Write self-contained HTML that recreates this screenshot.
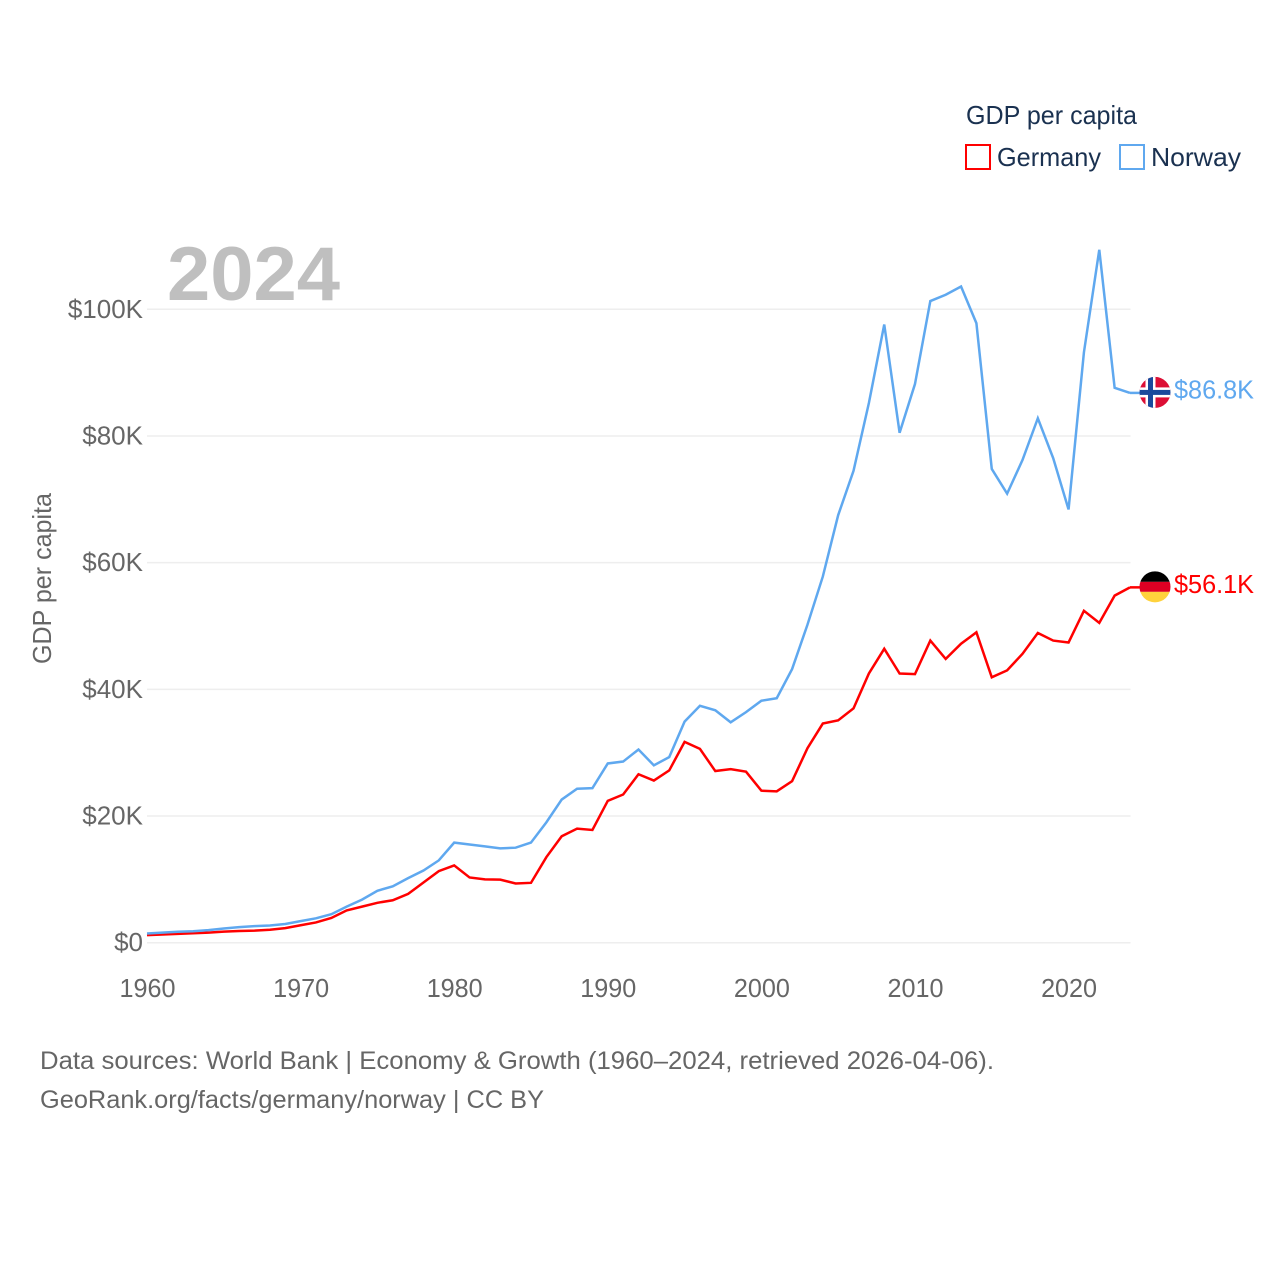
<!DOCTYPE html>
<html lang="en">
<head>
<meta charset="utf-8">
<title>GDP per capita: Germany and Norway</title>
<style>
html,body{margin:0;padding:0;background:#fff;width:1280px;height:1280px;overflow:hidden}
svg{display:block}
text{font-family:"Liberation Sans",sans-serif}
.tick{font-size:26px;fill:#666}
.foot{font-size:25px;fill:#666}
.leg{font-size:26px;fill:#1a3150}
</style>
</head>
<body>
<svg id="chart" xmlns="http://www.w3.org/2000/svg" width="1280" height="1280" viewBox="0 0 1280 1280">
  <rect width="1280" height="1280" fill="#fff"/>
  <g id="grid"></g>
  <text x="167" y="300" font-size="76" font-weight="700" fill="#bfbfbf" textLength="173" lengthAdjust="spacingAndGlyphs" style="font-size:76px">2024</text>
  <g id="yticks"></g>
  <g id="xticks"></g>
  <text class="tick" transform="translate(51,664) rotate(-90)" x="0" y="0" textLength="171" lengthAdjust="spacingAndGlyphs">GDP per capita</text>
  <g id="series"></g>
  <g id="ends"></g>
  <defs>
    <clipPath id="flag-clip-norway"><circle cx="0" cy="0" r="15.5"/></clipPath>
    <clipPath id="flag-clip-germany"><circle cx="0" cy="0" r="15.5"/></clipPath>
  </defs>
  <g>
    <text class="leg" x="966" y="124" textLength="171" lengthAdjust="spacingAndGlyphs">GDP per capita</text>
    <g>
      <rect x="966" y="145" width="24" height="24" fill="none" stroke="#ff0000" stroke-width="2"/>
      <text class="leg" x="997" y="166" textLength="104" lengthAdjust="spacingAndGlyphs">Germany</text>
    </g>
    <g>
      <rect x="1120" y="145" width="24" height="24" fill="none" stroke="#5fa8ef" stroke-width="2"/>
      <text class="leg" x="1151" y="166" textLength="90" lengthAdjust="spacingAndGlyphs">Norway</text>
    </g>
  </g>
  <g>
    <text class="foot" x="40" y="1069" textLength="954" lengthAdjust="spacingAndGlyphs">Data sources: World Bank | Economy &amp; Growth (1960–2024, retrieved 2026-04-06).</text>
    <text class="foot" x="40" y="1108" textLength="504" lengthAdjust="spacingAndGlyphs">GeoRank.org/facts/germany/norway | CC BY</text>
  </g>
</svg>
<script>
const years = [1960,1961,1962,1963,1964,1965,1966,1967,1968,1969,1970,1971,1972,1973,1974,1975,1976,1977,1978,1979,1980,1981,1982,1983,1984,1985,1986,1987,1988,1989,1990,1991,1992,1993,1994,1995,1996,1997,1998,1999,2000,2001,2002,2003,2004,2005,2006,2007,2008,2009,2010,2011,2012,2013,2014,2015,2016,2017,2018,2019,2020,2021,2022,2023,2024];
const norwayValues = [1.45,1.6,1.72,1.8,1.98,2.25,2.45,2.62,2.72,2.95,3.4,3.85,4.5,5.7,6.8,8.2,8.9,10.2,11.4,13.0,15.8,15.5,15.2,14.9,15.0,15.8,19.0,22.6,24.3,24.4,28.3,28.6,30.5,28.0,29.3,34.9,37.4,36.7,34.8,36.4,38.2,38.6,43.2,50.2,57.8,67.5,74.5,85.2,97.6,80.5,88.2,101.3,102.3,103.6,97.8,74.8,70.9,76.2,82.8,76.5,68.4,93.2,109.4,87.6,86.8];
const germanyValues = [1.2,1.3,1.4,1.5,1.6,1.75,1.85,1.9,2.05,2.3,2.75,3.2,3.9,5.1,5.7,6.3,6.7,7.7,9.5,11.3,12.2,10.3,10.0,9.95,9.35,9.45,13.5,16.8,18.0,17.8,22.4,23.4,26.6,25.6,27.2,31.7,30.6,27.1,27.4,27.0,24.0,23.9,25.5,30.7,34.6,35.1,37.0,42.5,46.4,42.5,42.4,47.7,44.8,47.2,49.0,41.9,43.0,45.6,48.9,47.7,47.4,52.4,50.5,54.8,56.1];
const yTickValues = [0,20,40,60,80,100];
const yTickLabels = ["$0","$20K","$40K","$60K","$80K","$100K"];
const xTickValues = [1960,1970,1980,1990,2000,2010,2020];
const xTickLabels = ["1960","1970","1980","1990","2000","2010","2020"];

const NS = 'http://www.w3.org/2000/svg';
const xScale = function (year) { return 147 + (year - 1960) * (983 / 64); };
const yScale = function (value) { return 942.7 - value * 6.334; };

function make(tag, attrs, parent) {
  const el = document.createElementNS(NS, tag);
  for (const key in attrs) el.setAttribute(key, attrs[key]);
  parent.appendChild(el);
  return el;
}

const gridGroup = document.getElementById('grid');
const yGroup = document.getElementById('yticks');
yTickValues.forEach(function (value, i) {
  const line = make('line', {x1: 147, x2: 1130.5, y1: yScale(value), y2: yScale(value), stroke: '#eeeeee', 'stroke-width': 1.5}, gridGroup);
  
  
  const label = make('text', {x: 143, y: yScale(value) + 8.5, 'text-anchor': 'end', class: 'tick'}, yGroup);
  label.textContent = yTickLabels[i];
  
  
});

const xGroup = document.getElementById('xticks');
xTickValues.forEach(function (year, i) {
  const label = make('text', {x: xScale(year) + 0.5, y: 997, 'text-anchor': 'middle', class: 'tick', textLength: 56, lengthAdjust: 'spacingAndGlyphs'}, xGroup);
  label.textContent = xTickLabels[i];
  
  
});

function linePoints(values) {
  return values.map(function (v, i) {
    return xScale(years[i]).toFixed(2) + ',' + yScale(v).toFixed(2);
  }).join(' ');
}

const seriesGroup = document.getElementById('series');
const germanyLine = make('polyline', {points: linePoints(germanyValues), fill: 'none', stroke: '#ff0000', 'stroke-width': 2.5, 'stroke-linejoin': 'miter'}, seriesGroup);


const norwayLine = make('polyline', {points: linePoints(norwayValues), fill: 'none', stroke: '#5fa8ef', 'stroke-width': 2.5, 'stroke-linejoin': 'miter'}, seriesGroup);



function formatValue(v) { return '$' + v.toFixed(1) + 'K'; }

const endsGroup = document.getElementById('ends');

function endMarker(values, color, key) {
  const last = values[values.length - 1];
  const y = yScale(last);
  const connector = make('line', {x1: 1130, x2: 1141, y1: y, y2: y, stroke: color, 'stroke-width': 2.5}, endsGroup);
  
  
  const flag = make('g', {transform: 'translate(1155,' + (y - 0.5).toFixed(2) + ')', 'clip-path': 'url(#flag-clip-' + key + ')'}, endsGroup);
  
  
  if (key === 'norway') {
    make('rect', {x: -16, y: -16, width: 32, height: 32, fill: '#dc0f35'}, flag);
    make('rect', {x: -9.5, y: -16, width: 10, height: 32, fill: '#fff'}, flag);
    make('rect', {x: -16, y: -5, width: 32, height: 10, fill: '#fff'}, flag);
    make('rect', {x: -7, y: -16, width: 5, height: 32, fill: '#1a4a9c'}, flag);
    make('rect', {x: -16, y: -2.5, width: 32, height: 5, fill: '#1a4a9c'}, flag);
  } else {
    make('rect', {x: -16, y: -16, width: 32, height: 11, fill: '#000'}, flag);
    make('rect', {x: -16, y: -5, width: 32, height: 10, fill: '#dd0023'}, flag);
    make('rect', {x: -16, y: 5, width: 32, height: 11, fill: '#ffd23c'}, flag);
  }
  const label = make('text', {x: 1174, y: (y + 5.5).toFixed(2), fill: color, textLength: 80, lengthAdjust: 'spacingAndGlyphs'}, endsGroup);
  label.style.fontSize = '26px';
  label.textContent = formatValue(last);
  
  
}

endMarker(germanyValues, '#ff0000', 'germany');
endMarker(norwayValues, '#5fa8ef', 'norway');
</script>
</body>
</html>
